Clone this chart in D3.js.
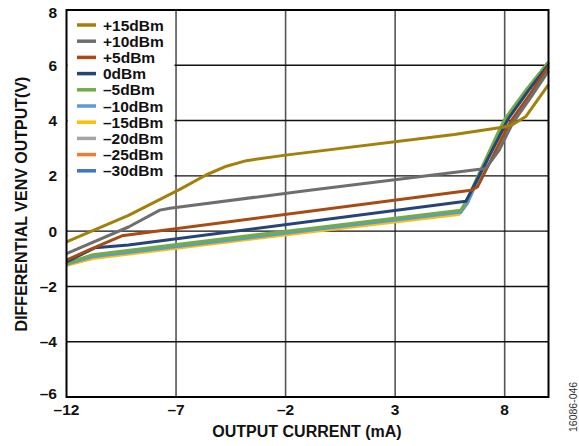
<!DOCTYPE html>
<html><head><meta charset="utf-8">
<script src="https://cdn.jsdelivr.net/npm/d3@7/dist/d3.min.js"></script>
<style>body{margin:0;background:#fff}svg{display:block;font-family:"Liberation Sans",Arial,sans-serif}</style>
</head><body><svg id="c" width="579" height="446"></svg>
<script>
const seriesNames = ["+15dBm","+10dBm","+5dBm","0dBm","–5dBm","–10dBm","–15dBm","–20dBm","–25dBm","–30dBm"];
const seriesColors = ["#A3800A","#6E6E6E","#A84B12","#264478","#70AD47","#5B9BD5","#FFC000","#A5A5A5","#ED7D31","#4472C4"];
const xP15 = [-12,-9.17,-6.83,-5.61,-4.7,-3.79,-2,5.7,7.98,8.35,8.97,10];
const yP15 = [-0.39,0.57,1.51,2.04,2.35,2.55,2.75,3.5,3.77,3.85,4.15,5.3];
const xP10 = [-12,-9.17,-7.74,-7.28,-0.9,7.14,7.75,8.36,9.2,10];
const yP10 = [-0.81,0.15,0.76,0.83,1.48,2.27,2.93,3.9,4.85,5.8];
const xP5 = [-12,-10.84,-9.47,6.46,6.76,8.06,8.3,9.2,10];
const yP5 = [-1.05,-0.63,-0.17,1.48,1.6,3.65,4.0,5.0,5.95];
const x0 = [-12,-10.69,-9.17,6.23,6.38,7.9,8.15,9.1,10];
const y0 = [-1.11,-0.6,-0.5,1.08,1.3,3.65,4.05,5.1,6.02];
const xM5 = [-12,-10.8,-0.9,6.0,6.23,7.75,8.0,8.97,10];
const yM5 = [-1.17,-0.85,0.1,0.76,1.06,3.65,4.05,5.1,6.12];
const xM10 = [-12,-10.8,-0.9,5.99,6.3,7.8,8.05,9.0,10];
const yM10 = [-1.2,-0.93,0.03,0.68,1.02,3.65,4.05,5.1,6.1];
const xM15 = [-12,-10.8,-0.9,5.9,6.25,7.82,8.07,9.02,10];
const yM15 = [-1.24,-0.99,-0.03,0.6,0.98,3.65,4.05,5.1,6.08];
const xM20 = [-12,-10.8,-0.9,5.95,6.28,7.8,8.05,9.0,10];
const yM20 = [-1.22,-0.96,0.0,0.65,1.0,3.65,4.05,5.1,6.09];
const xM25 = [-12,-10.8,-0.9,5.97,6.28,7.79,8.04,9.0,10];
const yM25 = [-1.21,-0.95,0.01,0.66,1.01,3.65,4.05,5.1,6.1];
const xM30 = [-12,-10.8,-0.9,5.98,6.29,7.8,8.05,9.0,10];
const yM30 = [-1.2,-0.94,0.02,0.67,1.01,3.65,4.05,5.1,6.1];
const xsAll = [xP15,xP10,xP5,x0,xM5,xM10,xM15,xM20,xM25,xM30];
const ysAll = [yP15,yP10,yP5,y0,yM5,yM10,yM15,yM20,yM25,yM30];
const xTicks = [-12,-7,-2,3,8];
const yTicks = [-6,-4,-2,0,2,4,6,8];
const xTitle = "OUTPUT CURRENT (mA)";
const yTitle = "DIFFERENTIAL VENV OUTPUT(V)";
const figId = "16086-046";

const L=66.5,R=548.5,T=10,B=397;
const x = d3.scaleLinear().domain([-12,10]).range([L,R]);
const y = d3.scaleLinear().domain([-6,8]).range([B,T]);
const svg = d3.select("#c");
const fmt = v => v<0 ? "–"+Math.abs(v) : String(v);

// gridlines
svg.append("g").selectAll("line").data(xTicks.slice(1)).join("line")
  .attr("x1",d=>x(d)).attr("x2",d=>x(d)).attr("y1",T).attr("y2",B)
  .attr("stroke","#555").attr("stroke-width",1.6);
svg.append("g").selectAll("line").data(yTicks.slice(1,-1)).join("line")
  .attr("x1",L).attr("x2",R).attr("y1",d=>y(d)).attr("y2",d=>y(d))
  .attr("stroke","#111").attr("stroke-width",1.4);

// legend background
svg.append("rect").attr("x",L+1).attr("y",T+1).attr("width",107).attr("height",170).attr("fill","#fff");

// lines
const line = d3.line().x(d=>x(d[0])).y(d=>y(d[1]));
const order = [9,8,7,6,5,4,3,2,1,0];
order.forEach(i=>{
  const pts = xsAll[i].map((v,j)=>[v,ysAll[i][j]]);
  svg.append("path").attr("d",line(pts)).attr("fill","none")
    .attr("stroke",seriesColors[i]).attr("stroke-width",3).attr("stroke-linejoin","round");
});

// legend
const lg = svg.append("g");
seriesNames.forEach((n,i)=>{
  const yy = 25 + i*16.2;
  lg.append("line").attr("x1",77).attr("x2",96).attr("y1",yy).attr("y2",yy)
    .attr("stroke",seriesColors[i]).attr("stroke-width",3.5);
  lg.append("text").attr("x",103).attr("y",yy).attr("dy","0.36em")
    .attr("font-size",15.5).attr("font-weight","bold").attr("fill","#111").text(n);
});

// frame
svg.append("rect").attr("x",L).attr("y",T).attr("width",R-L).attr("height",B-T)
  .attr("fill","none").attr("stroke","#000").attr("stroke-width",2);

// tick labels
svg.append("g").selectAll("text").data(xTicks).join("text")
  .attr("x",d=>x(d)).attr("y",415).attr("text-anchor","middle")
  .attr("font-size",15.5).attr("font-weight","bold").attr("fill","#111").text(fmt);
svg.append("g").selectAll("text").data(yTicks).join("text")
  .attr("x",57).attr("y",d=>d===-6?y(d)-4:(d===8?y(d)+2:y(d))).attr("dy","0.36em").attr("text-anchor","end")
  .attr("font-size",15.5).attr("font-weight","bold").attr("fill","#111").text(fmt);

// titles
svg.append("text").attr("x",307).attr("y",437).attr("text-anchor","middle")
  .attr("font-size",16).attr("font-weight","bold").attr("fill","#111").text(xTitle);
svg.append("text").attr("transform","translate(21,204) rotate(-90)").attr("dy","0.36em")
  .attr("text-anchor","middle").attr("font-size",16).attr("font-weight","bold").attr("fill","#111").text(yTitle);
svg.append("text").attr("transform","translate(577,432) rotate(-90)")
  .attr("font-size",10.5).attr("fill","#333").text(figId);
</script></body></html>
